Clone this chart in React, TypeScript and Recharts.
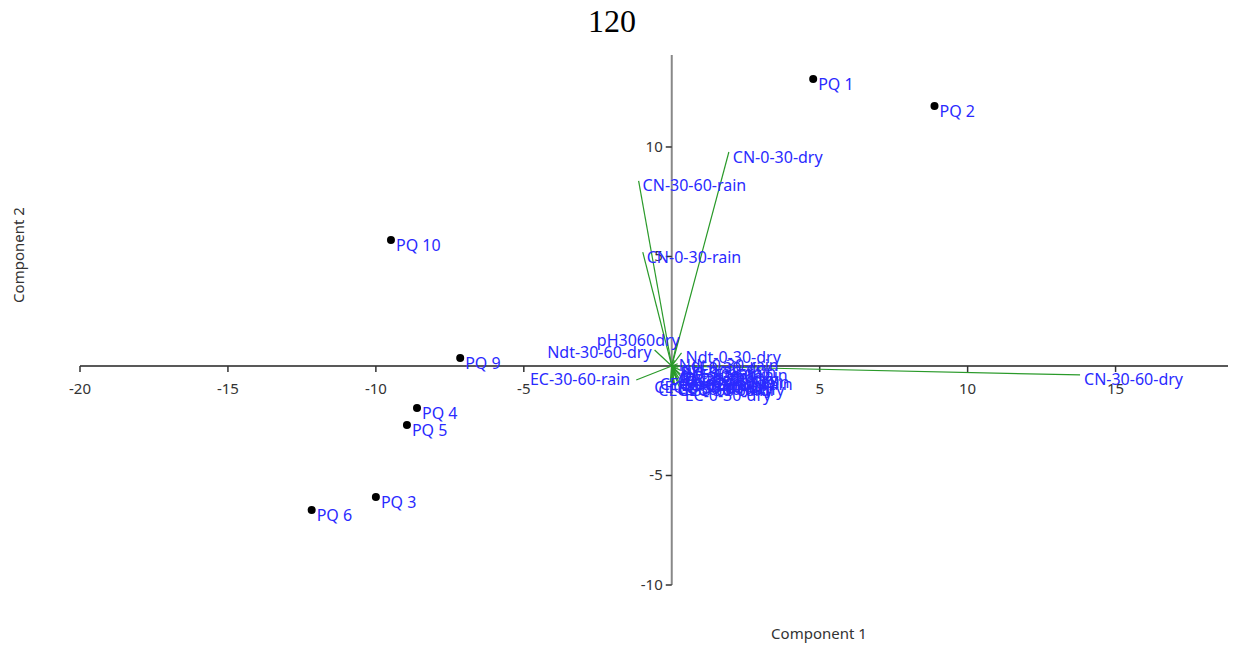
import React from 'react'
import { ScatterChart, Scatter, XAxis, YAxis, ReferenceLine, ReferenceDot } from 'recharts'

// PCA scores (samples)
const sampleNames = ['PQ 1', 'PQ 2', 'PQ 3', 'PQ 4', 'PQ 5', 'PQ 6', 'PQ 9', 'PQ 10']
const sampleC1 = [4.78, 8.88, -10.0, -8.61, -8.95, -12.17, -7.15, -9.49]
const sampleC2 = [13.1, 11.87, -5.98, -1.92, -2.69, -6.58, 0.37, 5.75]

// loadings (variables), drawn as vectors from the origin
const varNames = [
  'CN-0-30-dry', 'CN-30-60-rain', 'CN-0-30-rain', 'CN-30-60-dry', 'EC-30-60-rain',
  'Ndt-30-60-dry', 'pH3060dry', 'Ndt-0-30-dry', 'EC-0-30-dry',
  'Ndt-0-30-rain', 'pH-0-30-dry', 'pH-0-30-rain', 'pH-30-60-rain', 'OC-0-30-dry',
  'OC-0-30-rain', 'OC-30-60-dry', 'OC-30-60-rain', 'Ndt-30-60-rain', 'EC-0-30-rain',
  'EC-30-60-dry', 'CEC-0-30-dry', 'CEC-30-60-rain', 'P-0-30-rain', 'K-30-60-rain',
  'CEC-0-30-rain', 'CEC-30-60-dry'
]
const varC1 = [1.93, -1.12, -0.98, 13.8, -1.2, -0.58, 0.17, 0.33, 0.3, 0.1, 0.2, 0.22, 0.3, 0.12, 0.3, 0.08, 0.33, 0.26, 0.18, 0.06, -0.05, 0.02, 0.15, 0.28, 0.0, 0.1]
const varC2 = [9.77, 8.45, 5.2, -0.41, -0.64, 0.73, 1.05, 0.6, -1.14, 0.25, 0.1, -0.05, -0.2, -0.3, -0.38, -0.45, -0.52, -0.6, -0.68, -0.78, -0.72, -0.8, -0.12, -0.85, -0.62, -0.9]

const xTicks = [-20, -15, -10, -5, 5, 10, 15]
const yTicks = [-10, -5, 5, 10]

const FONT = '"Noto Sans", "Open Sans", sans-serif'
const BLUE = '#2a2aff'
const GREEN = '#2a9a2a'
const INK = '#333'

// label placement tweaks for a few crowded vectors
const labelTweak: Record<string, { dx: number; dy: number; anchor: 'start' | 'end' }> = {
  'EC-30-60-rain': { dx: -6, dy: 5, anchor: 'end' },
  'Ndt-30-60-dry': { dx: -3, dy: 8, anchor: 'end' },
  'pH3060dry': { dx: 3, dy: 3, anchor: 'end' },
  'CEC-0-30-dry': { dx: -16, dy: 11, anchor: 'start' },
  'CEC-30-60-rain': { dx: -14, dy: 12, anchor: 'start' },
  'CEC-0-30-rain': { dx: -12, dy: 10, anchor: 'start' }
}

const samples = sampleNames.map((name, i) => ({ x: sampleC1[i], y: sampleC2[i], name }))
const tips = varNames.map((name, i) => ({ x: varC1[i], y: varC2[i], name }))

const SampleDot = (p: any) => (
  <g>
    <circle cx={p.cx} cy={p.cy} r={4} fill="#000" />
    <text x={p.cx + 5} y={p.cy + 11} fill={BLUE} fontSize={16} fontFamily={FONT}>{p.payload.name}</text>
  </g>
)

const VarLabel = (p: any) => {
  const t = labelTweak[p.payload.name] || { dx: 4, dy: 10.5, anchor: 'start' }
  return (
    <text x={p.cx + t.dx} y={p.cy + t.dy} textAnchor={t.anchor} fill={BLUE} fontSize={16} fontFamily={FONT}>
      {p.payload.name}
    </text>
  )
}

export default function App() {
  return (
    <div style={{ position: 'absolute', left: 0, top: 0, width: 1237, height: 647, background: '#fff' }}>
      <div style={{ position: 'absolute', left: 588, top: 5, fontFamily: '"Liberation Serif", serif', fontSize: 32, lineHeight: 1, color: '#000' }}>
        120
      </div>
      <div style={{ position: 'absolute', left: 0, top: 623, width: 1638, textAlign: 'center', fontFamily: FONT, fontSize: 15, lineHeight: '20px', color: INK }}>
        Component 1
      </div>
      <div style={{ position: 'absolute', left: 18, top: 255, width: 0, height: 0 }}>
        <div style={{ position: 'absolute', left: -60, top: -10, width: 120, textAlign: 'center', transform: 'rotate(-90deg)', fontFamily: FONT, fontSize: 15, lineHeight: '20px', color: INK }}>
          Component 2
        </div>
      </div>
      <ScatterChart width={1237} height={647} margin={{ top: 55, right: 9, bottom: 62, left: 80 }}>
        <XAxis type="number" dataKey="x" domain={[-20, 18.8]} allowDataOverflow hide />
        <YAxis type="number" dataKey="y" domain={[-10, 14.2]} allowDataOverflow hide />
        <ReferenceLine y={0} stroke="#222" strokeWidth={1.5} />
        <ReferenceLine x={0} stroke="#888" strokeWidth={2} />
        {xTicks.map(t => (
          <ReferenceDot
            key={'xt' + t}
            x={t}
            y={0}
            ifOverflow="visible"
            shape={(p: any) => (
              <g>
                <line x1={p.cx} y1={p.cy} x2={p.cx} y2={p.cy + 6} stroke={INK} strokeWidth={1.5} />
                <text x={p.cx} y={p.cy + 28} textAnchor="middle" fill={INK} fontSize={15} fontFamily={FONT}>{t}</text>
              </g>
            )}
          />
        ))}
        {yTicks.map(t => (
          <ReferenceDot
            key={'yt' + t}
            x={0}
            y={t}
            ifOverflow="visible"
            shape={(p: any) => (
              <g>
                <line x1={p.cx - 6} y1={p.cy} x2={p.cx} y2={p.cy} stroke={INK} strokeWidth={1.5} />
                <text x={p.cx - 9} y={p.cy + 5} textAnchor="end" fill={INK} fontSize={15} fontFamily={FONT}>{t}</text>
              </g>
            )}
          />
        ))}
        {tips.map(v => (
          <Scatter
            key={'v' + v.name}
            data={[{ x: 0, y: 0 }, { x: v.x, y: v.y }]}
            fill={GREEN}
            line={{ stroke: GREEN, strokeWidth: 1.2 }}
            shape={() => <g />}
            isAnimationActive={false}
          />
        ))}
        <Scatter data={tips} shape={VarLabel} isAnimationActive={false} />
        <Scatter data={samples} shape={SampleDot} isAnimationActive={false} />
      </ScatterChart>
    </div>
  )
}
